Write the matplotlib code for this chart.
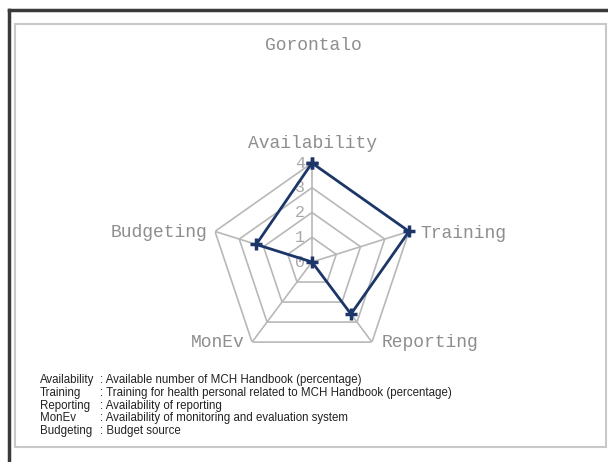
import numpy as np
import matplotlib.pyplot as plt
from matplotlib.lines import Line2D
from matplotlib.patches import Rectangle

# Data
categories = ['Availability', 'Training', 'Reporting', 'MonEv', 'Budgeting']
values = [4, 4, 2.6, 0, 2.3]
ring_levels = [1, 2, 3, 4]
ring_labels = ['0', '1', '2', '3', '4']
legend_keys = ['Availability', 'Training', 'Reporting', 'MonEv', 'Budgeting']
legend_text = [': Available number of MCH Handbook (percentage)',
               ': Training for health personal related to MCH Handbook (percentage)',
               ': Availability of reporting',
               ': Availability of monitoring and evaluation system',
               ': Budget source']

mono = 'Liberation Mono'
grey_txt = '#8e8e8e'
grid_col = '#b8b8b8'
line_col = '#1d3669'
PX = 0.72  # points per pixel at dpi 100

fig = plt.figure(figsize=(6.08, 4.62), dpi=100)

# frame borders
fig.add_artist(Line2D([9/608, 1.0], [1 - 10/462, 1 - 10/462], color='#3a3a3a', lw=2.5))
fig.add_artist(Line2D([9/608, 9/608], [0, 1 - 10/462], color='#3a3a3a', lw=2.5))
fig.add_artist(Rectangle((15/608, 1 - 447/462), (606 - 15)/608, (447 - 24)/462,
                         fill=False, edgecolor='#c8c8c8', lw=1.5))

fig.text(313/608, 1 - 45/462, 'Gorontalo', ha='center', va='center',
         family=mono, fontsize=13, color=grey_txt)

ax = fig.add_axes([(312 - 102)/608, 1 - (262 + 99)/462, 204/608, 198/462], polar=True)
ax.set_aspect('auto')
ax.set_theta_offset(np.pi / 2)
ax.set_theta_direction(-1)
ax.set_ylim(0, 4)
ax.grid(False)
ax.set_xticks([])
ax.set_yticks([])
ax.spines['polar'].set_visible(False)
ax.patch.set_alpha(0)

n = len(categories)
angles = np.arange(n) * 2 * np.pi / n
closed = np.append(angles, angles[0])

# pentagon grid
for lv in ring_levels:
    ax.plot(closed, [lv] * (n + 1), color=grid_col, lw=1.2, zorder=1)
for a in angles:
    ax.plot([a, a], [0, 4], color=grid_col, lw=1.2, zorder=1)

# ring labels, just left of the vertical axis
for i, lab in enumerate(ring_labels):
    ax.annotate(lab, xy=(0, i), xytext=(-12 * PX, 0), textcoords='offset points',
                ha='center', va='center', family=mono, fontsize=12,
                color='#a8a8a8', zorder=2)

# data
vals = values + [values[0]]
ax.plot(closed, vals, color=line_col, lw=2, marker='+', markersize=8,
        markeredgewidth=2.5, zorder=3, clip_on=False)

# category labels (pixel offsets from the outer vertex)
lab_off = [(0, 20, 'center'), (11, -2, 'left'), (10, 0, 'left'),
           (-7, 0, 'right'), (-8, -1, 'right')]
for cat, a, (dx, dy, ha) in zip(categories, angles, lab_off):
    ax.annotate(cat, xy=(a, 4), xytext=(dx * PX, dy * PX), textcoords='offset points',
                ha=ha, va='center', family=mono, fontsize=13, color=grey_txt,
                annotation_clip=False)

# legend text
for i, (k, t) in enumerate(zip(legend_keys, legend_text)):
    y = 1 - (380 + i * 12.8) / 462
    fig.text(40/608, y, k, ha='left', va='center', family='Liberation Sans',
             fontsize=8.3, color='#222222')
    fig.text(100/608, y, t, ha='left', va='center', family='Liberation Sans',
             fontsize=8.3, color='#222222')

fig.savefig('out.png', dpi=100)
